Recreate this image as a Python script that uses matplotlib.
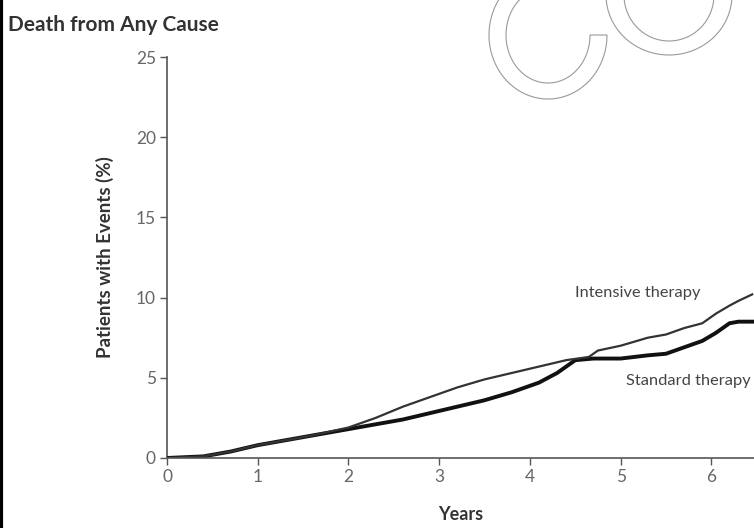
import numpy as np
import matplotlib.pyplot as plt
from matplotlib.patches import Ellipse, Polygon
from matplotlib.lines import Line2D

# Kaplan-Meier style cumulative event curves
intensive_years = [0, 0.4, 0.7, 1.0, 1.3, 1.6, 2.0, 2.3, 2.6, 2.9, 3.2, 3.5, 3.8, 4.1, 4.4,
                   4.65, 4.75, 5.0, 5.3, 5.5, 5.7, 5.9, 6.05, 6.2, 6.3, 6.45]
intensive_pct = [0, 0.1, 0.4, 0.8, 1.1, 1.4, 1.9, 2.5, 3.2, 3.8, 4.4, 4.9, 5.3, 5.7, 6.1,
                 6.3, 6.7, 7.0, 7.5, 7.7, 8.1, 8.4, 9.0, 9.5, 9.8, 10.2]

standard_years = [0, 0.4, 0.7, 1.0, 1.3, 1.6, 2.0, 2.3, 2.6, 2.9, 3.2, 3.5, 3.8, 4.1, 4.3,
                  4.5, 4.7, 5.0, 5.3, 5.5, 5.7, 5.9, 6.05, 6.2, 6.3, 6.45]
standard_pct = [0, 0.1, 0.4, 0.8, 1.1, 1.4, 1.8, 2.1, 2.4, 2.8, 3.2, 3.6, 4.1, 4.7, 5.3,
                6.1, 6.2, 6.2, 6.4, 6.5, 6.9, 7.3, 7.8, 8.4, 8.5, 8.5]

x_ticks = [0, 1, 2, 3, 4, 5, 6]
y_ticks = [0, 5, 10, 15, 20, 25]

plt.rcParams['font.family'] = ['Lato', 'DejaVu Sans']

fig = plt.figure(figsize=(7.54, 5.28), dpi=100)
ax = fig.add_axes([0.2215, 0.1326, 0.7785, 0.7594])

ax.plot(standard_years, standard_pct, color='#111111', lw=2.8, solid_joinstyle='miter')
ax.plot(intensive_years, intensive_pct, color='#333333', lw=1.6)

ax.text(5.88, 10.3, 'Intensive therapy', ha='right', va='center', fontsize=11.8, color='#444444')
ax.text(6.43, 4.8, 'Standard therapy', ha='right', va='center', fontsize=11.8, color='#444444')

ax.set_xlim(0, 6.47)
ax.set_ylim(0, 25)
ax.set_xticks(x_ticks)
ax.set_yticks(y_ticks)
ax.spines['top'].set_visible(False)
ax.spines['right'].set_visible(False)
for s in ['left', 'bottom']:
    ax.spines[s].set_color('#555555')
    ax.spines[s].set_linewidth(1.2)
ax.tick_params(direction='out', length=5, width=1, color='#555555',
               labelsize=12.5, labelcolor='#666666', pad=3)
ax.spines['left'].set_zorder(0)

ax.set_xlabel('Years', fontsize=13, fontweight='bold', color='#333333', labelpad=15)
ax.set_ylabel('Patients with Events (%)', fontsize=13.5, fontweight='bold', color='#333333',
              labelpad=16)

fig.text(0.011, 0.952, 'Death from Any Cause', fontsize=15, fontweight='bold',
         color='#333333', ha='left', va='center')

# black edge on the left of the scan
fig.add_artist(Line2D([0.0015, 0.0015], [0, 1], color='black', lw=3, transform=fig.transFigure))

# watermark outlines at the top
W, H = 754, 528
def to_fig(px, py):
    return px / W, 1 - py / H

th = np.radians(np.linspace(0, 300, 120))
cx, cy = 548, 35
outer = [to_fig(cx + 59 * np.cos(t), cy + 64 * np.sin(t)) for t in th]
inner = [to_fig(cx + 42 * np.cos(t), cy + 48 * np.sin(t)) for t in th[::-1]]
fig.add_artist(Polygon(outer + inner, closed=True, fill=False, edgecolor='#9a9a9a',
                       lw=0.8, transform=fig.transFigure))
for rx, ry in [(63, 60), (45, 46)]:
    fig.add_artist(Ellipse(to_fig(669, -5), 2 * rx / W, 2 * ry / H, fill=False,
                           edgecolor='#9a9a9a', lw=0.8, transform=fig.transFigure))

fig.savefig('out.png', dpi=100)
